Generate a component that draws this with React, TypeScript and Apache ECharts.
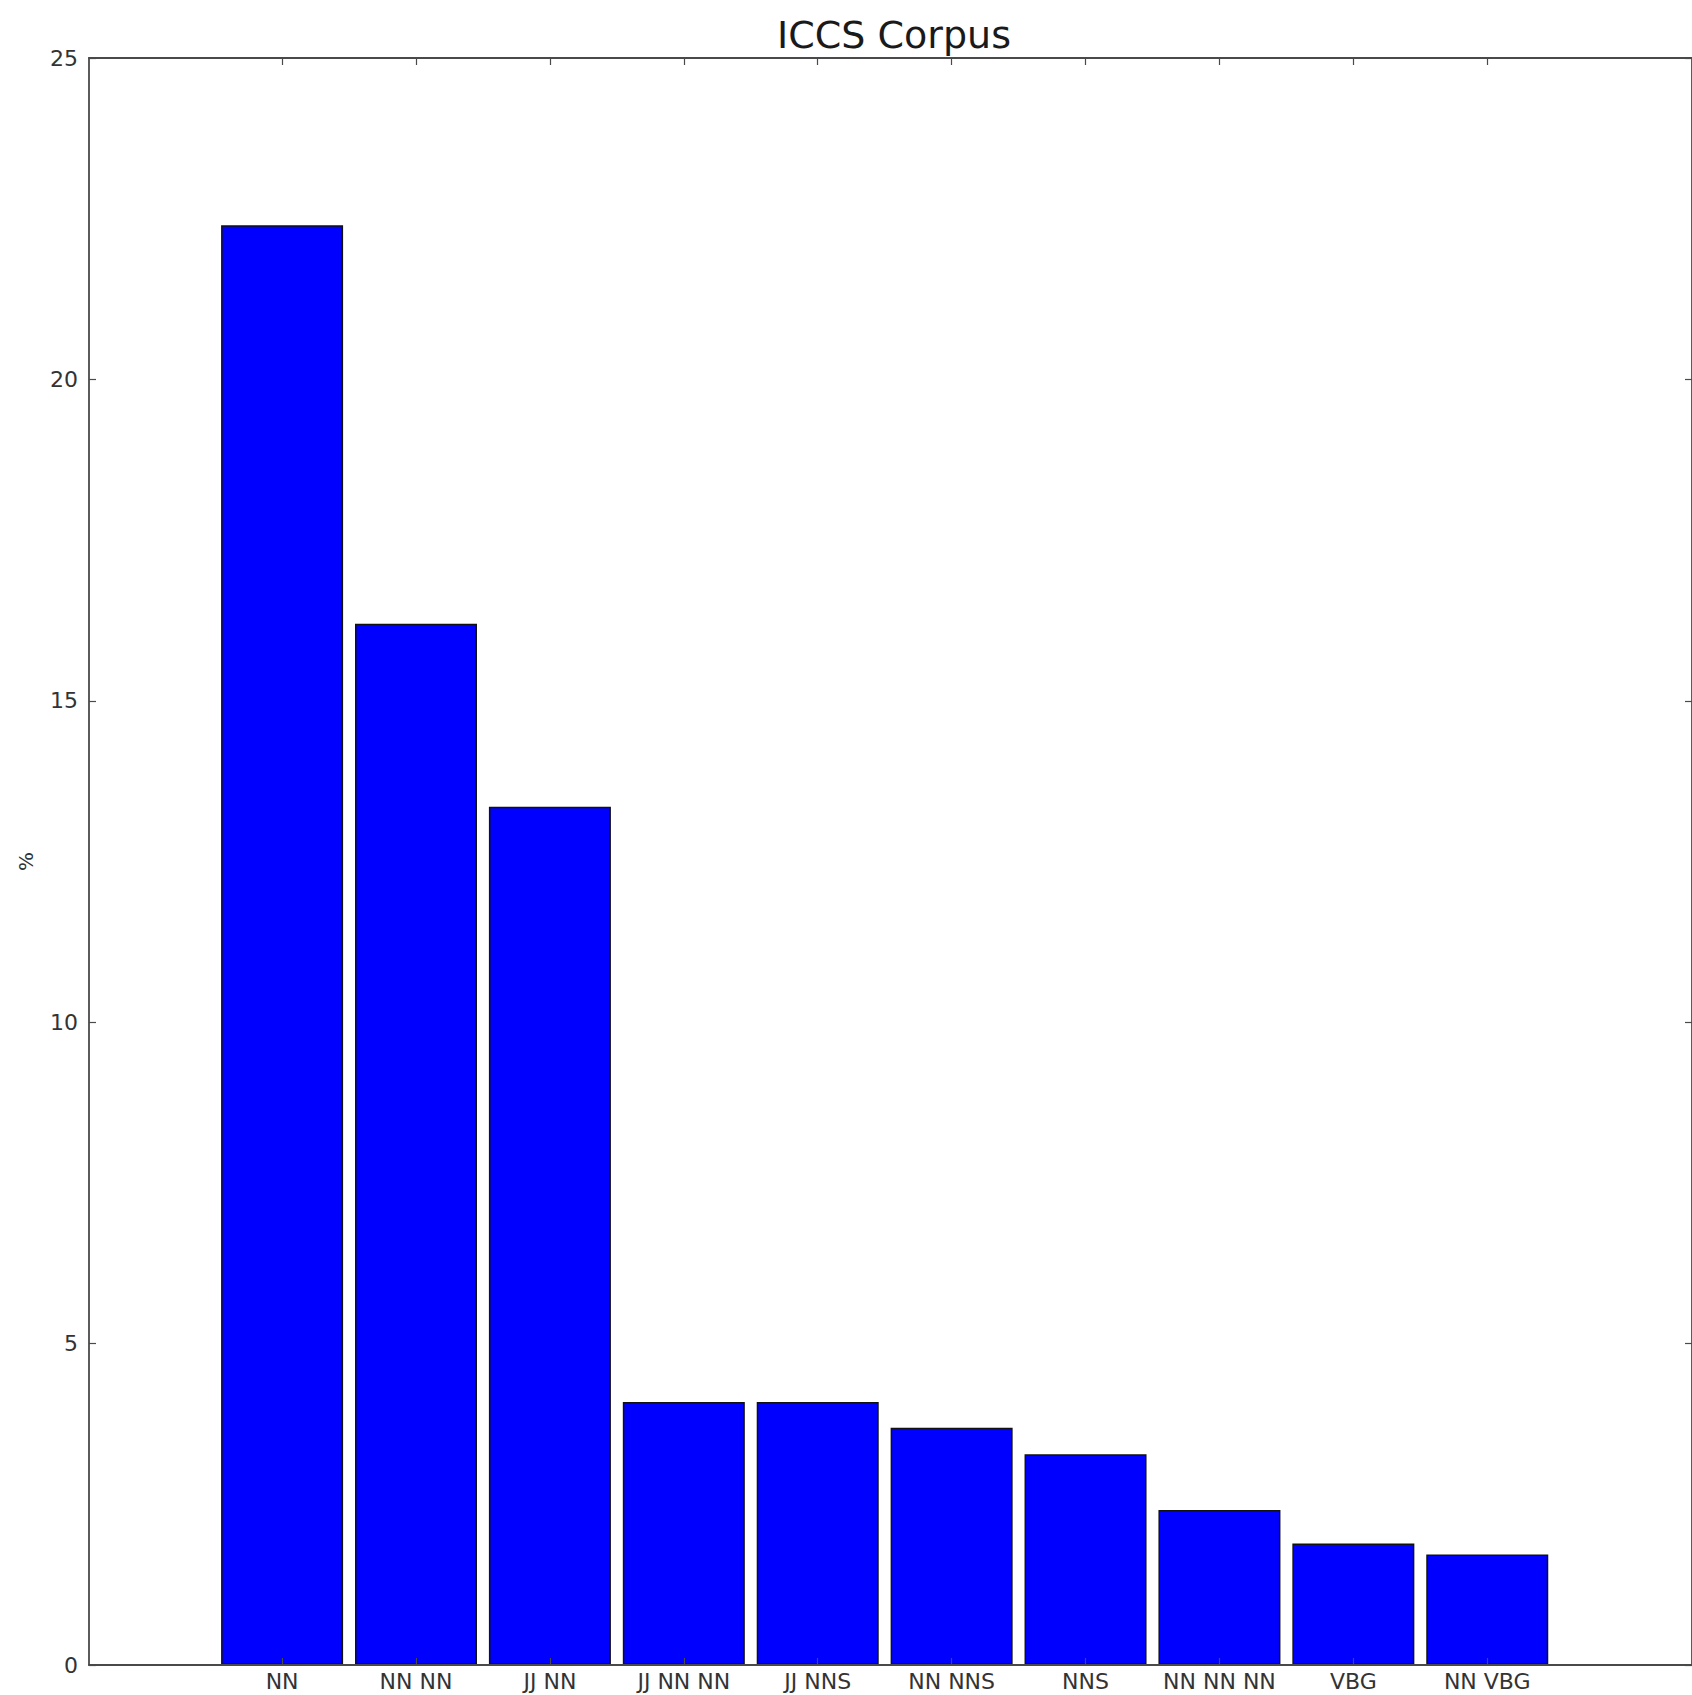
import React, { useEffect, useRef } from "react";
import * as echarts from "echarts";

const categories = ["NN", "NN NN", "JJ NN", "JJ NN NN", "JJ NNS", "NN NNS", "NNS", "NN NN NN", "VBG", "NN VBG"];
const values = [22.4, 16.2, 13.35, 4.09, 4.09, 3.69, 3.28, 2.41, 1.89, 1.72];
const yTicks = [0, 5, 10, 15, 20, 25];
const title = "ICCS Corpus";
const yName = "%";

const FONT = "DejaVu Sans";
const SPINE = "#4a4a4a";

export default function App() {
  const ref = useRef<HTMLDivElement>(null);
  useEffect(() => {
    if (!ref.current) return;
    const chart = echarts.init(ref.current, undefined, { renderer: "svg" });
    const idx = categories.map((_, i) => i);
    const xMin = -1.442;
    const xMax = 10.529;
    const axisLine = { show: true, onZero: false, lineStyle: { color: SPINE, width: 1.8 } };
    chart.setOption({
      animation: false,
      backgroundColor: "#ffffff",
      title: {
        text: title,
        left: 889,
        top: 11,
        textAlign: "center",
        textStyle: { fontFamily: FONT, fontSize: 38, fontWeight: "normal", color: "#1a1a1a" },
      },
      grid: { left: 89, top: 58, width: 1608, height: 1607, containLabel: false },
      xAxis: [
        {
          type: "value",
          position: "bottom",
          min: xMin,
          max: xMax,
          z: 10,
          axisLine,
          splitLine: { show: false },
          axisTick: { show: true, inside: true, length: 7, customValues: idx, lineStyle: { color: SPINE, width: 1.2 } },
          axisLabel: {
            show: true,
            customValues: idx,
            formatter: (v: number) => categories[Math.round(v)] ?? "",
            fontFamily: FONT,
            fontSize: 22,
            color: "#333",
            margin: 5,
          },
        },
        {
          type: "value",
          position: "top",
          min: xMin,
          max: xMax,
          z: 10,
          axisLine,
          splitLine: { show: false },
          axisTick: { show: true, inside: true, length: 7, customValues: idx, lineStyle: { color: SPINE, width: 1.2 } },
          axisLabel: { show: false },
        },
      ],
      yAxis: [
        {
          type: "value",
          position: "left",
          min: 0,
          max: 25,
          interval: 5,
          z: 10,
          name: yName,
          nameLocation: "middle",
          nameGap: 53,
          nameRotate: 90,
          nameTextStyle: { fontFamily: FONT, fontSize: 20, color: "#333" },
          axisLine,
          splitLine: { show: false },
          axisTick: { show: true, inside: true, length: 7, lineStyle: { color: SPINE, width: 1.2 } },
          axisLabel: {
            customValues: yTicks,
            fontFamily: FONT,
            fontSize: 22,
            color: "#333",
            margin: 11,
          },
        },
        {
          type: "value",
          position: "right",
          min: 0,
          max: 25,
          interval: 5,
          z: 10,
          axisLine,
          splitLine: { show: false },
          axisTick: { show: true, inside: true, length: 7, lineStyle: { color: SPINE, width: 1.2 } },
          axisLabel: { show: false },
        },
      ],
      series: [
        {
          type: "bar",
          xAxisIndex: 0,
          yAxisIndex: 0,
          barWidth: 122,
          data: values.map((v, i) => [i, v]),
          itemStyle: { color: "#0000ff", borderColor: "#111", borderWidth: 1.5 },
        },
      ],
    });
    return () => chart.dispose();
  }, []);
  return (
    <div
      ref={ref}
      style={{ position: "absolute", left: 0, top: 0, width: 1692, height: 1695 }}
    />
  );
}
